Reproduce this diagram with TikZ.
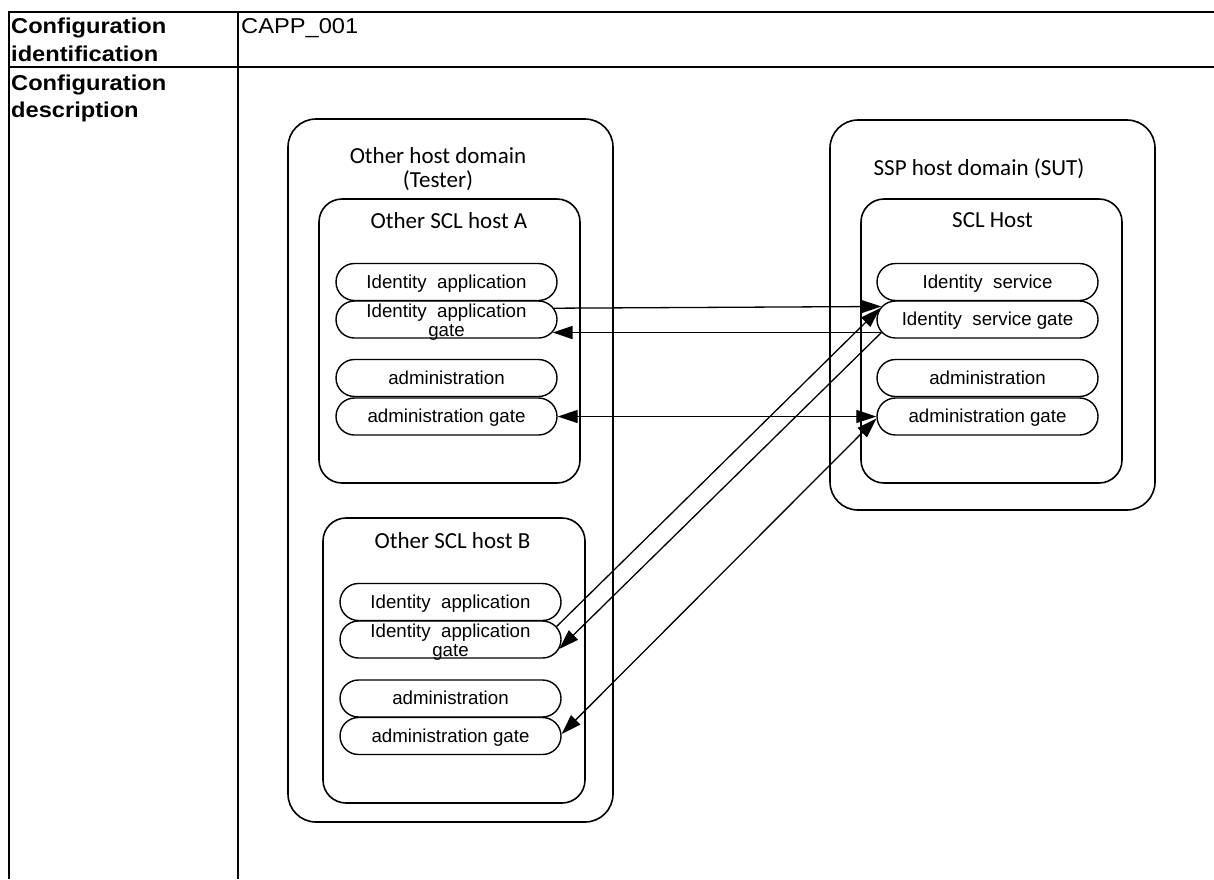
\documentclass[tikz,border=0pt]{standalone}
\usepackage{fontspec}
\setmainfont{Liberation Sans}
\newfontfamily\tabfont[FakeStretch=1.1]{Liberation Sans}
\newfontfamily\calfont{Carlito}
\usetikzlibrary{shapes.misc,arrows.meta,calc}
\begin{document}
\begin{tikzpicture}[x=1pt,y=-1pt,
  tabline/.style={line width=2pt},
  tabtxt/.style={anchor=base west, inner sep=0pt, font=\tabfont\fontsize{21.5}{24}\selectfont},
  tabhead/.style={tabtxt, font=\tabfont\bfseries\fontsize{21.5}{24}\selectfont},
  box/.style={draw, rectangle, line width=1.6pt, rounded corners=#1, inner sep=0pt},
  box/.default=28pt,
  lab/.style={anchor=base, inner sep=0pt, font=\calfont\fontsize{23}{26}\selectfont},
  pill/.style={draw, rounded rectangle, line width=1.4pt, minimum width=221pt, minimum height=37pt,
    inner sep=0pt, font=\fontsize{18.7}{20}\selectfont, text height=13.6pt, text depth=1pt},
  gtxt/.style={anchor=base, inner sep=0pt, font=\fontsize{18.7}{20}\selectfont},
  arr/.style={line width=1.3pt, -{Triangle[length=20pt,width=13pt]}},
  darr/.style={line width=1.3pt, {Triangle[length=20pt,width=13pt]}-{Triangle[length=20pt,width=13pt]}}
]
\useasboundingbox (0,0) rectangle (1214,879);

% table
\draw[tabline] (8.5,879) -- (8.5,12) -- (1214,12);
\draw[tabline] (8.5,67) -- (1214,67);
\draw[tabline] (238,12) -- (238,879);
\node[tabhead] (c1a) at (11,33) {Configuration};
\node[tabhead] (c1b) at (11,61.5) {identification};
\node[tabhead] (c2a) at (11,90) {Configuration};
\node[tabhead] (c2b) at (11,117) {description};
\node[tabtxt] (capp) at (241,33) {CAPP\_001};

% containers
\node[box=28pt, minimum width=325pt, minimum height=703pt] (dA) at (450.5,470.5) {};
\node[box=23pt, minimum width=261pt, minimum height=284pt] (hA) at (449.5,341) {};
\node[box=23pt, minimum width=262pt, minimum height=285pt] (hB) at (454,660.5) {};
\node[box=28pt, minimum width=325pt, minimum height=390pt] (dS) at (992.5,315) {};
\node[box=23pt, minimum width=261pt, minimum height=284pt] (hS) at (991.5,341) {};

\node[lab] (ldA1) at (438,163.3) {Other host domain};
\node[lab] (ldA2) at (438,187.7) {(Tester)};
\node[lab] (lhA) at (449,228.3) {Other SCL host A};
\node[lab] (lhB) at (452.5,548.3) {Other SCL host B};
\node[lab] (ldS) at (979,175) {SSP host domain (SUT)};
\node[lab] (lhS) at (992.5,227.3) {SCL Host};

% pills host A
\node[pill] (aia) at (446.5,282) {Identity\ \ application};
\node[pill] (aig) at (446.5,319.5) {};
\node[pill] (aad) at (446.5,378) {administration};
\node[pill] (aag) at (446.5,416.5) {administration gate};
\node[gtxt] (aigt1) at ($(aig.center)+(0,-2.5)$) {Identity\ \ application};
\node[gtxt] (aigt2) at ($(aig.center)+(0,17)$) {gate};

% pills host B
\node[pill] (bia) at (450.5,602) {Identity\ \ application};
\node[pill] (big) at (450.5,639.5) {};
\node[pill] (bad) at (450.5,698.5) {administration};
\node[pill] (bag) at (450.5,736) {administration gate};
\node[gtxt] (bigt1) at ($(big.center)+(0,-2.5)$) {Identity\ \ application};
\node[gtxt] (bigt2) at ($(big.center)+(0,17)$) {gate};

% pills SCL host
\node[pill] (sia) at (987.5,282) {Identity\ \ service};
\node[pill] (sig) at (987.5,319.5) {Identity\ \ service gate};
\node[pill] (sad) at (987.5,378) {administration};
\node[pill] (sag) at (987.5,416.5) {administration gate};

% connectors
\draw[arr] (aig.6.75) -- (sig.173.25);
\draw[arr] (sig.187.35) -- (aig.-7.35);
\draw[darr] (aag.east) -- (sag.west);
\draw[arr] (big.7.97) -- (sig.174.4);
\draw[arr] (sig.187.35) -- (big.-5.6);
\draw[darr] (sag.181.8) -- (bag.1.55);
\end{tikzpicture}
\end{document}
